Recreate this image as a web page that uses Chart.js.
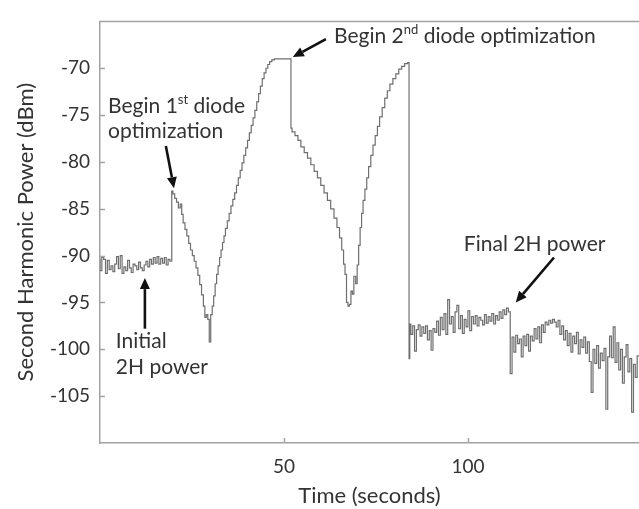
<!DOCTYPE html>
<html>
<head>
<meta charset="utf-8">
<script src="https://cdn.jsdelivr.net/npm/chart.js@4.4.1/dist/chart.umd.min.js"></script>
<style>
  html, body { margin: 0; padding: 0; background: #fff; }
  canvas { display: block; }
</style>
</head>
<body>
<canvas id="harmonicChart" width="639" height="509"></canvas>
<script>
// time (s), power (dBm)
const baseline = [
  [0, -90.3], [0.5, -91.6], [1, -90.2], [1.5, -90.4], [2, -91.9], [2.5, -90.5], [3, -91.5], [3.5, -91.1],
  [4, -91.7], [4.5, -90.9], [5, -90.1], [5.5, -91.4], [6, -90.0], [6.5, -91.9], [7, -91.2], [7.5, -91.6],
  [8, -90.5], [8.5, -91.3], [9, -91.8], [9.5, -90.9], [10, -91.1], [10.5, -91.5], [11, -90.7], [11.5, -91.3],
  [12, -91.6], [12.5, -91.0], [13, -90.6], [13.5, -91.2], [14, -90.4], [14.5, -90.9], [15, -90.2], [15.5, -90.8],
  [16, -90.1], [16.5, -90.9], [17, -90.3], [17.5, -90.8], [18, -90.2], [18.5, -91.0], [19, -90.4], [19.5, -90.6]
];

const firstSweep = [
  [19.8, -83.1], [20.3, -83.4], [20.8, -83.9], [21.3, -84.3], [21.8, -84.9], [22.2, -84.5], [22.6, -85.6],
  [23.1, -86.5], [23.6, -87.2], [24.1, -87.9], [24.6, -88.7], [25.1, -89.4], [25.6, -90.0], [26.1, -90.6],
  [26.6, -91.3], [27.1, -92.1], [27.6, -93.1], [28.1, -94.2], [28.5, -95.4], [28.9, -96.6], [29.3, -96.3],
  [29.7, -96.8], [30.1, -99.2], [30.5, -96.3], [30.9, -95.4], [31.3, -94.3], [31.7, -93.0], [32.1, -92.0],
  [32.5, -91.1], [32.9, -90.2], [33.3, -89.4], [33.7, -88.6], [34.1, -87.9], [34.6, -87.1], [35.1, -86.3],
  [35.6, -85.5], [36.1, -84.7], [36.6, -84.0], [37.1, -83.3], [37.6, -82.5], [38.1, -81.7], [38.6, -80.9],
  [39.1, -80.1], [39.6, -79.3], [40.1, -78.5], [40.6, -77.7], [41.1, -76.9], [41.6, -76.1], [42.1, -75.3],
  [42.6, -74.5], [43.1, -73.6], [43.6, -72.7], [44.1, -71.9], [44.6, -71.1], [45.1, -70.5], [45.6, -70.0],
  [46.1, -69.6], [46.7, -69.3], [47.4, -69.1], [48.5, -69.0], [49.5, -69.0], [50.5, -69.0], [51.9, -69.0]
];

const secondSweep = [
  [52.2, -76.4], [53.0, -76.8], [53.8, -77.2], [54.6, -77.7], [55.5, -78.4], [56.4, -79.0], [57.3, -79.6],
  [58.2, -80.3], [59.1, -81.0], [60.0, -81.7], [60.9, -82.5], [61.8, -83.3], [62.7, -84.1], [63.6, -85.0],
  [64.4, -86.0], [65.1, -87.0], [65.7, -88.1], [66.2, -89.4], [66.6, -90.9], [67.0, -92.0], [67.4, -95.0],
  [67.8, -95.4], [68.2, -95.2], [68.6, -93.8], [69.0, -94.1], [69.5, -92.2], [69.9, -93.0], [70.3, -91.0],
  [70.7, -88.9], [71.1, -87.0], [71.5, -85.5], [72.0, -84.1], [72.5, -82.9], [73.0, -81.7], [73.6, -80.5],
  [74.2, -79.3], [74.8, -78.2], [75.4, -77.2], [76.0, -76.2], [76.7, -75.2], [77.4, -74.2], [78.1, -73.2],
  [78.8, -72.4], [79.6, -71.7], [80.4, -71.1], [81.2, -70.6], [82.0, -70.1], [82.8, -69.8], [83.6, -69.5],
  [84.0, -69.4]
];

const finalNoise = [
  [84.2, -101.0], [84.5, -97.3], [85, -98.4], [85.5, -97.5], [86, -100.2], [86.5, -97.9], [87, -97.4],
  [87.5, -98.6], [88, -97.6], [88.5, -98.3], [89, -97.5], [89.5, -99.0], [90, -98.0], [90.5, -100.1],
  [91, -97.8], [91.5, -98.2], [92, -97.0], [92.5, -98.5], [93, -96.6], [93.5, -97.9], [94, -96.2],
  [94.5, -98.4], [95, -94.7], [95.5, -97.3], [96, -96.5], [96.5, -98.2], [97, -96.0], [97.5, -95.3],
  [98, -97.8], [98.5, -96.4], [99, -98.3], [99.5, -96.8], [100, -97.6], [100.5, -95.9], [101, -98.0],
  [101.5, -96.5], [102, -97.3], [102.5, -96.4], [103, -97.5], [103.5, -96.6], [104, -96.9], [104.5, -97.4],
  [105, -96.3], [105.5, -97.2], [106, -96.5], [106.5, -97.0], [107, -96.2], [107.5, -97.3], [108, -96.4],
  [108.5, -96.9], [109, -96.0], [109.5, -96.7], [110, -95.8], [110.5, -96.3], [111, -95.6], [111.5, -96.0],
  [112, -102.6], [112.5, -98.7], [113, -100.3], [113.5, -98.5], [114, -99.4], [114.5, -98.9], [115, -100.8],
  [115.5, -98.6], [116, -99.6], [116.5, -98.4], [117, -100.2], [117.5, -98.6], [118, -99.1], [118.5, -97.8],
  [119, -98.9], [119.5, -97.6], [120, -99.3], [120.5, -97.4], [121, -98.2], [121.5, -97.1], [122, -97.4],
  [122.5, -96.9], [123, -97.2], [123.5, -96.8], [124, -97.1], [124.5, -97.6], [125, -96.9], [125.5, -98.4],
  [126, -97.5], [126.5, -99.0], [127, -98.0], [127.5, -99.6], [128, -98.3], [128.5, -100.3], [129, -98.6],
  [129.5, -99.4], [130, -98.2], [130.5, -100.5], [131, -99.0], [131.5, -99.8], [132, -98.7], [132.5, -100.4],
  [133, -99.2], [133.5, -101.3], [134, -104.6], [134.5, -100.0], [135, -101.5], [135.5, -99.6], [136, -102.0],
  [136.5, -100.4], [137, -101.2], [137.5, -99.9], [138, -106.4], [138.5, -100.8], [139, -98.6], [139.5, -100.9],
  [140, -97.6], [140.5, -101.4], [141, -99.3], [141.5, -102.2], [142, -100.0], [142.5, -103.6], [143, -100.8],
  [143.5, -99.5], [144, -102.4], [144.5, -101.0], [145, -106.7], [145.5, -101.6], [146, -103.0], [146.5, -100.7],
  [147, -102.1]
];

const xTicks = [50, 100];
const yTicks = [-105, -100, -95, -90, -85, -80, -75, -70];

// annotation text, anchored in data units (left edge, vertical centre)
const notes = [
  { parts: [['Begin 1'], ['st', true], [' diode']], t: 2.2, v: -74.1 },
  { parts: [['optimization']], t: 2.2, v: -76.7 },
  { parts: [['Begin 2'], ['nd', true], [' diode optimization']], t: 63.6, v: -66.6 },
  { parts: [['Initial']], t: 4.3, v: -99.1 },
  { parts: [['2H power']], t: 4.3, v: -101.9 },
  { parts: [['Final 2H power']], t: 98.9, v: -88.8 }
];

// arrows: [from t, from v, tip t, tip v]
const arrows = [
  [17.9, -78.3, 20.1, -82.8],
  [61.4, -66.9, 52.4, -68.8],
  [12.2, -97.8, 12.2, -92.4],
  [123.4, -90.2, 113.0, -95.0]
];

const trace = baseline.concat(firstSweep, secondSweep, finalNoise).map(p => ({ x: p[0], y: p[1] }));

const frameColor = '#a3a3a3';
const textColor = '#333333';
const fontFamily = 'Lato, "Open Sans", sans-serif';

const framePlugin = {
  id: 'frame',
  afterDraw(chart) {
    const { ctx, chartArea, scales: { x, y } } = chart;
    ctx.save();
    ctx.strokeStyle = frameColor;
    ctx.lineWidth = 1.5;
    ctx.beginPath();
    ctx.moveTo(chartArea.left, chartArea.top);
    ctx.lineTo(chartArea.right, chartArea.top);
    // inward tick marks
    xTicks.forEach(v => {
      const px = Math.round(x.getPixelForValue(v)) + 0.5;
      ctx.moveTo(px, chartArea.bottom);
      ctx.lineTo(px, chartArea.bottom - 5);
    });
    yTicks.forEach(v => {
      const py = Math.round(y.getPixelForValue(v)) + 0.5;
      ctx.moveTo(chartArea.left, py);
      ctx.lineTo(chartArea.left + 5, py);
    });
    ctx.stroke();
    ctx.restore();
  }
};

const notesPlugin = {
  id: 'notes',
  afterDraw(chart) {
    const { ctx, scales: { x, y } } = chart;
    ctx.save();
    ctx.fillStyle = textColor;
    ctx.textBaseline = 'middle';
    ctx.textAlign = 'left';
    notes.forEach(n => {
      let px = x.getPixelForValue(n.t);
      const py = y.getPixelForValue(n.v);
      n.parts.forEach(([txt, sup]) => {
        ctx.font = sup ? '13px ' + fontFamily : '21px ' + fontFamily;
        ctx.fillText(txt, px, sup ? py - 7 : py);
        px += ctx.measureText(txt).width;
      });
    });

    ctx.strokeStyle = '#111';
    ctx.fillStyle = '#111';
    ctx.lineWidth = 2.6;
    arrows.forEach(a => {
      const x1 = x.getPixelForValue(a[0]), y1 = y.getPixelForValue(a[1]);
      const x2 = x.getPixelForValue(a[2]), y2 = y.getPixelForValue(a[3]);
      const ang = Math.atan2(y2 - y1, x2 - x1);
      const head = 11, half = 5;
      const bx = x2 - head * Math.cos(ang), by = y2 - head * Math.sin(ang);
      ctx.beginPath();
      ctx.moveTo(x1, y1);
      ctx.lineTo(bx, by);
      ctx.stroke();
      ctx.beginPath();
      ctx.moveTo(x2, y2);
      ctx.lineTo(bx + half * Math.sin(ang), by - half * Math.cos(ang));
      ctx.lineTo(bx - half * Math.sin(ang), by + half * Math.cos(ang));
      ctx.closePath();
      ctx.fill();
    });
    ctx.restore();
  }
};

new Chart(document.getElementById('harmonicChart').getContext('2d'), {
  type: 'line',
  data: {
    datasets: [{
      data: trace,
      stepped: 'after',
      borderColor: '#6f6f6f',
      borderWidth: 1.2,
      pointRadius: 0,
      fill: false
    }]
  },
  options: {
    responsive: false,
    animation: false,
    layout: { padding: { top: 10, right: 0, bottom: 0, left: 0 } },
    plugins: {
      legend: { display: false },
      tooltip: { enabled: false }
    },
    scales: {
      x: {
        type: 'linear',
        min: 0,
        max: 146.5,
        afterBuildTicks: s => { s.ticks = xTicks.map(v => ({ value: v })); },
        afterFit: s => { s.height = 66; },
        grid: { drawOnChartArea: false, drawTicks: false },
        border: { color: frameColor, width: 1.5 },
        ticks: { color: textColor, padding: 12, font: { family: fontFamily, size: 19 } },
        title: {
          display: true,
          text: 'Time (seconds)',
          color: textColor,
          padding: { top: 0, bottom: 0 },
          font: { family: fontFamily, size: 22 }
        }
      },
      y: {
        min: -110,
        max: -65,
        afterBuildTicks: s => { s.ticks = yTicks.map(v => ({ value: v })); },
        afterFit: s => { s.width = 100; },
        grid: { drawOnChartArea: false, drawTicks: false },
        border: { color: frameColor, width: 1.5 },
        ticks: { color: textColor, padding: 10, font: { family: fontFamily, size: 19 } },
        title: {
          display: true,
          text: 'Second Harmonic Power (dBm)',
          color: textColor,
          padding: { top: 13, bottom: 0 },
          font: { family: fontFamily, size: 22 }
        }
      }
    }
  },
  plugins: [framePlugin, notesPlugin]
});
</script>
</body>
</html>
